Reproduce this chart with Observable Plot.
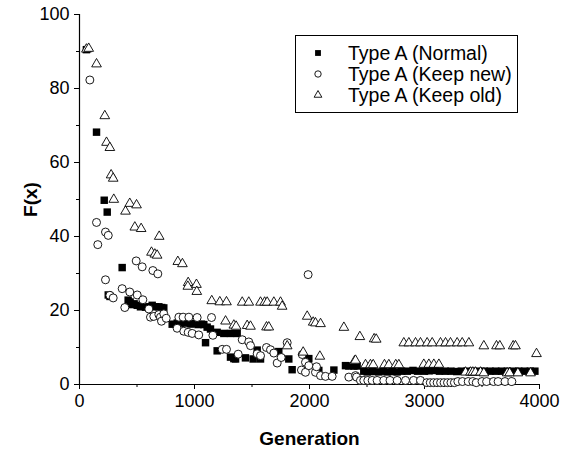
<!DOCTYPE html>
<html>
<head>
<meta charset="utf-8">
<script src="https://cdn.jsdelivr.net/npm/d3@7"></script>
<script src="https://cdn.jsdelivr.net/npm/@observablehq/plot@0.6"></script>
<style>
  html, body { margin: 0; padding: 0; background: #fff; }
  #wrap { position: relative; width: 562px; height: 454px; font-family: "Liberation Sans", Arial, sans-serif; }
  #wrap svg text { font-size: 18px; fill: #000; }
  #wrap svg [aria-label="x-axis label"] text, #wrap svg [aria-label="y-axis label"] text { font-weight: bold; font-size: 19px; }
  #legend { position: absolute; left: 295px; top: 35px; width: 223px; height: 78px; border: 1px solid #000; background: #fff; box-sizing: border-box; font-size: 19.5px; color: #000; }
  #legend .row { position: absolute; left: 0; height: 21px; line-height: 21px; white-space: nowrap; }
  #legend .row svg { position: absolute; left: 16px; top: 4px; }
  #legend .row span { position: absolute; left: 52px; top: 0; }
</style>
</head>
<body>
<div id="wrap"></div>
<script>
// Series values: [generation, F(x)]
const seriesNames = ["Type A (Normal)", "Type A (Keep new)", "Type A (Keep old)"];

const normal = [
  [60, 90.5], [148, 68.2], [215, 49.8], [241, 46.6], [250, 24.2], [265, 23.8], [371, 31.6],
  [423, 22.8], [440, 22.3], [458, 21.6], [475, 21.8], [502, 21.4], [530, 21.0], [574, 20.9],
  [605, 21.0], [632, 21.4], [660, 21.0], [690, 21.0], [715, 20.8], [733, 20.7],
  [806, 16.3], [850, 16.6], [878, 16.6], [922, 16.6], [965, 16.4], [980, 16.4], [1032, 16.2],
  [1060, 16.3], [1081, 16.2], [1096, 11.3], [1110, 15.5], [1139, 15.0], [1197, 14.1],
  [1255, 13.8], [1313, 13.8], [1371, 13.8], [1197, 9.1], [1313, 7.4], [1342, 7.0], [1357, 6.9],
  [1443, 7.2], [1510, 6.9], [1545, 9.3], [1574, 6.9], [1733, 8.9], [1820, 6.9], [1849, 4.0],
  [1980, 6.8], [1994, 7.0], [2081, 3.8], [2212, 3.9], [2313, 5.1], [2342, 5.0], [2386, 5.0],
  [2414, 5.0], [2472, 3.6], [2502, 3.4], [2550, 3.5], [2603, 3.4], [2640, 3.6], [2675, 3.4],
  [2720, 3.5], [2762, 3.4], [2800, 3.6], [2850, 3.6], [2900, 3.8], [2940, 3.6], [3000, 3.6],
  [3040, 3.7], [3090, 3.8], [3130, 3.6], [3180, 3.6], [3230, 3.6], [3280, 3.5], [3320, 3.6],
  [3370, 3.6], [3420, 3.6], [3470, 3.6], [3520, 3.6], [3570, 3.6], [3620, 3.6], [3670, 3.6],
  [3720, 3.6], [3770, 3.6], [3820, 3.6], [3870, 3.6], [3920, 3.6], [3960, 3.6]
];

const keepNew = [
  [90, 82.3], [148, 43.8], [159, 37.8], [226, 41.2], [250, 40.3], [226, 28.3], [264, 24.1],
  [293, 23.4], [371, 25.9], [394, 20.8], [437, 25.0], [493, 33.4], [502, 24.2], [545, 31.8],
  [551, 22.9], [603, 20.4], [617, 18.2], [638, 30.8], [646, 18.4], [681, 29.9], [690, 18.9],
  [704, 18.2], [713, 17.1], [733, 19.1], [754, 17.9], [849, 15.2], [864, 18.2], [901, 18.2],
  [907, 14.4], [951, 18.2], [945, 14.1], [980, 13.8], [1023, 18.1], [1037, 13.4], [1148, 18.1],
  [1160, 13.3], [1241, 9.5], [1278, 9.5], [1380, 8.2], [1415, 12.1], [1472, 11.5], [1487, 10.5],
  [1545, 8.3], [1574, 7.8], [1626, 10.0], [1661, 9.4], [1690, 8.5], [1719, 5.8], [1754, 7.3],
  [1806, 11.3], [1930, 3.9], [1937, 8.1], [1965, 6.0], [1965, 3.3], [1988, 29.7], [1994, 5.1],
  [2052, 3.3], [2061, 4.8], [2096, 2.4], [2139, 2.2], [2197, 2.2], [2342, 2.0], [2400, 2.4],
  [2409, 2.0], [2443, 1.1], [2472, 1.1], [2507, 1.1], [2545, 1.1], [2588, 1.1], [2646, 1.1],
  [2700, 1.1], [2762, 1.1], [2835, 1.1], [2905, 1.1], [2965, 1.1], [3020, 0.5], [3050, 0.5],
  [3080, 0.5], [3110, 0.5], [3140, 0.5], [3170, 0.5], [3200, 0.5], [3230, 0.5], [3260, 0.5],
  [3290, 0.8], [3330, 0.8], [3380, 0.8], [3420, 0.8], [3450, 0.5], [3500, 0.8], [3540, 0.8],
  [3600, 0.8], [3640, 0.8], [3700, 0.8], [3760, 0.8]
];

const keepOld = [
  [60, 90.6], [80, 90.8], [148, 86.6], [220, 72.6], [235, 65.4], [264, 64.0], [275, 56.6],
  [293, 55.7], [298, 50.0], [400, 46.8], [437, 48.9], [496, 48.5], [481, 42.5], [536, 42.1],
  [626, 35.7], [655, 35.2], [675, 34.9], [693, 40.0], [855, 33.2], [895, 32.6], [945, 27.5],
  [942, 26.5], [1017, 27.0], [1020, 25.1], [1150, 22.6], [1220, 22.3], [1278, 22.3],
  [1415, 22.2], [1472, 22.2], [1574, 22.2], [1610, 22.2], [1632, 22.2], [1690, 22.2],
  [1748, 22.2], [1762, 21.1], [1270, 17.1], [1342, 16.0], [1362, 15.7], [1458, 15.9],
  [1487, 15.7], [1626, 15.5], [1646, 15.5], [1806, 10.4], [1945, 8.7], [1980, 18.4],
  [2032, 16.8], [2052, 16.6], [2096, 16.4], [2090, 7.6], [2299, 15.4], [2391, 6.3], [2400, 6.5],
  [2438, 12.9], [2562, 12.3], [2580, 12.2], [2487, 5.3], [2530, 5.3], [2554, 5.3], [2652, 5.3],
  [2690, 5.3], [2750, 5.3], [2777, 5.3], [2820, 11.2], [2864, 11.2], [2922, 11.2], [2965, 11.2],
  [3023, 11.2], [3067, 11.2], [3139, 11.2], [3183, 11.2], [3226, 11.2], [3284, 11.2],
  [3328, 11.2], [3386, 11.2], [3516, 10.4], [3626, 10.4], [3655, 10.4], [3771, 10.4],
  [3791, 10.4], [3974, 8.3], [2994, 5.4], [3038, 5.4], [3081, 5.4], [3125, 5.4], [3357, 3.3],
  [3400, 3.3], [3420, 3.3], [3443, 3.3], [3487, 3.3], [3516, 3.1], [3719, 3.1], [3740, 3.1],
  [3812, 3.1], [3922, 3.1]
];

const xTicks = [0, 1000, 2000, 3000, 4000];
const xMinor = [500, 1500, 2500, 3500];
const yTicks = [0, 20, 40, 60, 80, 100];
const yMinor = [10, 30, 50, 70, 90];

const chart = Plot.plot({
  width: 562,
  height: 454,
  marginLeft: 79,
  marginRight: 23,
  marginTop: 14,
  marginBottom: 70,
  style: { fontFamily: "'Liberation Sans', Arial, sans-serif", fontSize: "18px", color: "#000", background: "#fff" },
  x: { domain: [0, 4000] },
  y: { domain: [0, 100] },
  marks: [
    Plot.axisX({ ticks: xMinor, tickSize: 3, tickFormat: () => "", label: null }),
    Plot.axisY({ ticks: yMinor, tickSize: 3, tickFormat: () => "", label: null }),
    Plot.axisX({ ticks: xTicks, tickSize: 5, tickPadding: 5, tickFormat: d3.format("d"), label: "Generation", labelAnchor: "center", labelArrow: "none", labelOffset: 60 }),
    Plot.axisY({ ticks: yTicks, tickSize: 5, tickPadding: 5, tickFormat: d3.format("d"), label: "F(x)", labelAnchor: "center", labelArrow: "none", labelOffset: 56 }),
    Plot.ruleX([0], { stroke: "#000", strokeWidth: 1.2 }),
    Plot.ruleY([0], { stroke: "#000", strokeWidth: 1.2 }),
    Plot.dot(normal, { x: d => d[0], y: d => d[1], symbol: "square", r: 4.2, fill: "#000", stroke: "none" }),
    Plot.dot(keepNew, { x: d => d[0], y: d => d[1], symbol: "circle", r: 4.0, fill: "#fff", stroke: "#000", strokeWidth: 0.9 }),
    Plot.dot(keepOld, { x: d => d[0], y: d => d[1], symbol: "triangle", r: 3.6, fill: "#fff", stroke: "#000", strokeWidth: 0.9 })
  ]
});
document.getElementById("wrap").appendChild(chart);

// Legend
const legend = document.createElement("div");
legend.id = "legend";
const legendSymbols = ["square", "circle", "triangle"];
seriesNames.forEach((name, i) => {
  const row = document.createElement("div");
  row.className = "row";
  row.style.top = (7 + i * 21) + "px";
  const s = d3.create("svg").attr("width", 12).attr("height", 12);
  const sym = { square: d3.symbolSquare, circle: d3.symbolCircle, triangle: d3.symbolTriangle }[legendSymbols[i]];
  const size = { square: 34, circle: 32, triangle: 26 }[legendSymbols[i]];
  s.append("path").attr("d", d3.symbol(sym, size)()).attr("transform", "translate(6,6)")
    .attr("fill", i === 0 ? "#000" : "#fff").attr("stroke", i === 0 ? "none" : "#000").attr("stroke-width", 0.9);
  row.appendChild(s.node());
  const t = document.createElement("span");
  t.textContent = name;
  row.appendChild(t);
  legend.appendChild(row);
});
document.getElementById("wrap").appendChild(legend);
</script>
</body>
</html>
